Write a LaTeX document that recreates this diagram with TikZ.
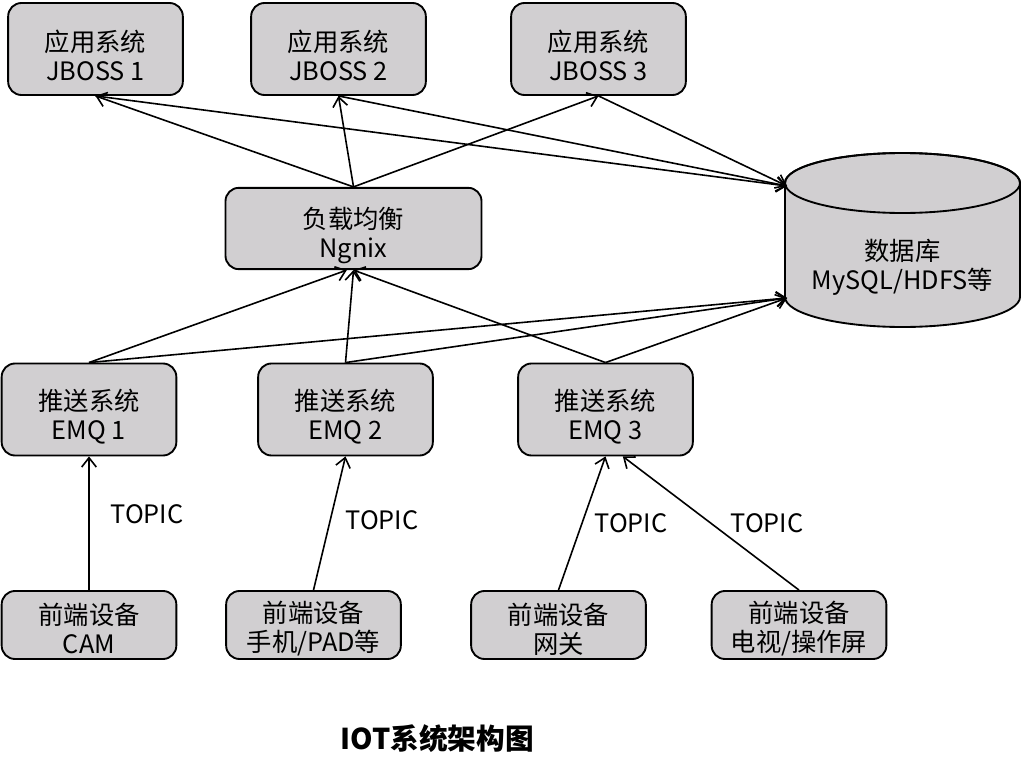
\documentclass[tikz,border=0pt]{standalone}
\usepackage{fontspec}
\usepackage{tikz}
\usetikzlibrary{arrows.meta}
\setmainfont{Noto Sans CJK SC}
\definecolor{boxgray}{RGB}{209,207,209}

\begin{document}
\begin{tikzpicture}[x=0.75pt, y=-0.75pt, >={Straight Barb[length=7pt,width=11pt]}, font=\fontsize{19}{21.75}\selectfont,
		textdown/.style={execute at begin node={\rule{0pt}{#1}}},
		basebox/.style={draw, line width=1.4pt, fill=boxgray, rounded corners=10pt, align=center, inner sep=0pt, minimum width=131pt},
		sysbox/.style={basebox, minimum height=69pt, textdown=48pt},
		devbox/.style={basebox, minimum height=51pt, textdown=43.5pt},
		link/.style={->, line width=1.2pt}]
		\useasboundingbox (0,0) rectangle (1024,774);
		% application servers
		\node[sysbox] (app1) at (95.5,49) {应用系统\\JBOSS 1};
		\node[sysbox] (app2) at (338.5,49) {应用系统\\JBOSS 2};
		\node[sysbox] (app3) at (598.5,49) {应用系统\\JBOSS 3};
		% load balancer
		\node[sysbox, minimum width=192pt, minimum height=61pt] (lb) at (353.5,228.5) {负载均衡\\Ngnix};
		% database
		\begin{scope}[line width=1.4pt]
			\filldraw[fill=boxgray] (785,183) -- (785,297) arc[start angle=180, end angle=0, x radius=117.5, y radius=30] -- (1020,183) arc[start angle=0, end angle=-180, x radius=117.5, y radius=30] -- cycle;
			\draw (902.5,183) ellipse [x radius=117.5, y radius=30];
		\end{scope}
		\node[align=center] (db) at (902.5,267) {数据库\\MySQL/HDFS等};
		\coordinate (dbin1) at (787,186);
		\coordinate (dbin2) at (787,298);
		% push servers
		\node[sysbox] (emq1) at (89,409.5) {推送系统\\EMQ 1};
		\node[sysbox] (emq2) at (345.5,409.5) {推送系统\\EMQ 2};
		\node[sysbox] (emq3) at (605.5,409.5) {推送系统\\EMQ 3};
		% devices
		\node[devbox] (dev1) at (89,625) {前端设备\\CAM};
		\node[devbox] (dev2) at (313.5,625) {前端设备\\手机/PAD等};
		\node[devbox] (dev3) at (558.5,625) {前端设备\\网关};
		\node[devbox] (dev4) at (799,625) {前端设备\\电视/操作屏};

		\draw[link] (lb.north) -- (app1.south);
		\draw[link] (lb.north) -- (app2.south);
		\draw[link] (lb.north) -- (app3.south);
		\draw[link] (app1.south) -- (dbin1);
		\draw[link] (app2.south) -- (dbin1);
		\draw[link] (app3.south) -- (dbin1);
		\draw[link] (emq1.north) -- ([xshift=-5pt]lb.south);
		\draw[link] (emq2.north) -- (lb.south);
		\draw[link] (emq3.north) -- (lb.south);
		\draw[link] (emq1.north) -- (dbin2);
		\draw[link] (emq2.north) -- (dbin2);
		\draw[link] (emq3.north) -- (dbin2);
		\draw[link] (dev1.north) -- (emq1.south);
		\draw[link] (dev2.north) -- (emq2.south);
		\draw[link] (dev3.north) -- (emq3.south);
		\draw[link] (dev4.north) -- ([xshift=13pt]emq3.south);

		\node (t1) at (147,514) {TOPIC};
		\node (t2) at (382,520) {TOPIC};
		\node (t3) at (631,523) {TOPIC};
		\node (t4) at (767,523) {TOPIC};

		\node[font=\bfseries\fontsize{21.5}{24}\selectfont] (title) at (437,739) {IOT系统架构图};
	\end{tikzpicture}
\end{document}
